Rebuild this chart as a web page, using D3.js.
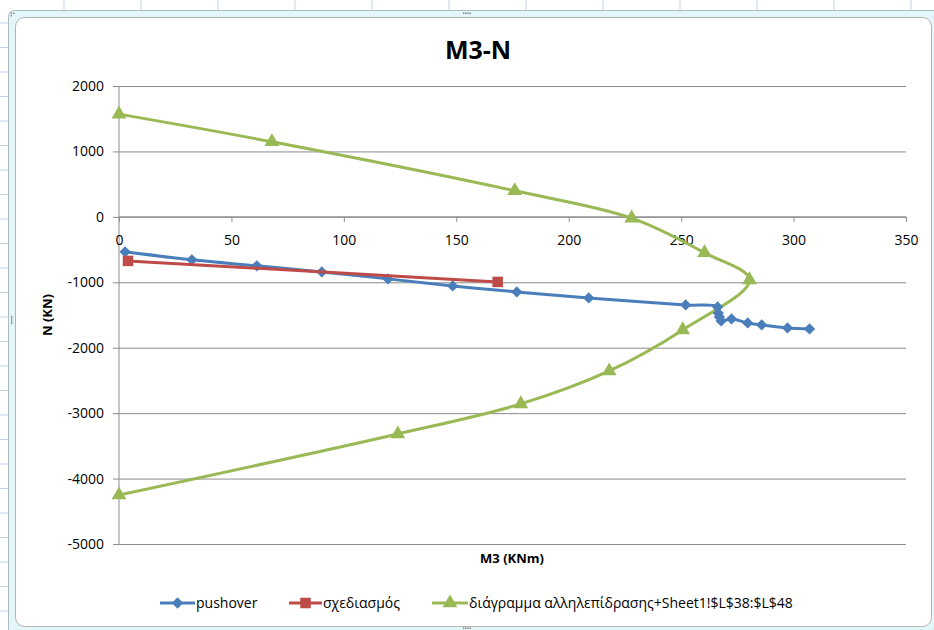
<!DOCTYPE html>
<html>
<head>
<meta charset="utf-8">
<script src="https://cdn.jsdelivr.net/npm/d3@7/dist/d3.min.js"></script>
<style>
  html, body { margin: 0; padding: 0; background: #ffffff; }
  svg text { font-family: "Open Sans", "Liberation Sans", Arial, sans-serif; fill: #000; }
</style>
</head>
<body>
<svg id="chart" width="934" height="630"></svg>
<script>
// M3 (KNm) / N (KN) values for each series
const pushoverM = [2.7, 32.4, 61.3, 90.2, 119.6, 148.4, 176.9, 208.9, 252.0, 266.2, 266.5, 267.0, 267.8, 272.4, 279.6, 285.8, 297.3, 307.1];
const pushoverN = [-535, -657, -749, -841, -948, -1055, -1147, -1239, -1346, -1376, -1470, -1530, -1590, -1560, -1621, -1651, -1697, -1713];

const designM = [4.0, 168.4];
const designN = [-673, -994];

const interactionM = [0, 68, 176, 228, 260.4, 280.4, 250.7, 218, 178.7, 124, 0];
const interactionN = [1570, 1147, 398, -20, -550, -963, -1728, -2355, -2859, -3318, -4251];

const xTicks = [0, 50, 100, 150, 200, 250, 300, 350];
const yTicks = [2000, 1000, 0, -1000, -2000, -3000, -4000, -5000];

const seriesNames = ["pushover", "σχεδιασμός", "διάγραμμα αλληλεπίδρασης+Sheet1!$L$38:$L$48"];
const chartTitle = "M3-N";
const xTitle = "M3 (KNm)";
const yTitle = "N (KN)";

const svg = d3.select("#chart");
const labelFont = "'Open Sans', 'Liberation Sans', Arial, sans-serif";
const fmt = d => String(d);   // plain hyphen-minus, as the worksheet prints it

// ---- workbook surroundings: sheet grid and chart frame ----
const sheet = svg.append("g");
d3.range(64, 934, 77).forEach(xp => {
  sheet.append("line").attr("x1", xp).attr("x2", xp).attr("y1", 0).attr("y2", 11)
    .attr("stroke", "#c5d3ea").attr("stroke-width", 1);
});
d3.range(23, 630, 24.5).forEach(yp => {
  sheet.append("line").attr("x1", 0).attr("x2", 9).attr("y1", yp).attr("y2", yp)
    .attr("stroke", "#c5d3ea").attr("stroke-width", 1);
});
// outer selection border
sheet.append("rect").attr("x", 8.5).attr("y", 10.5).attr("width", 940).attr("height", 640)
  .attr("rx", 6).attr("fill", "#e3f6f9").attr("stroke", "#a9bcc4").attr("stroke-width", 1);
// chart area
sheet.append("rect").attr("x", 15.5).attr("y", 17.5).attr("width", 916).attr("height", 609)
  .attr("rx", 9).attr("fill", "#ffffff").attr("stroke", "#b4b4b4").attr("stroke-width", 1);
// sizing handles
const handle = (cx, cy, vertical) => {
  for (let i = 0; i < 4; i++) {
    sheet.append("rect")
      .attr("x", vertical ? cx - 1 : cx - 4 + i * 2.2)
      .attr("y", vertical ? cy - 4 + i * 2.2 : cy - 1)
      .attr("width", 1.4).attr("height", 1.4).attr("fill", "#7a7a7a");
  }
};
handle(467, 13.5, false);
handle(12, 320, true);
handle(467, 628.5, false);
[[10.5, 12.5], [13, 12.5], [10.5, 15]].forEach(([hx, hy]) =>
  sheet.append("rect").attr("x", hx).attr("y", hy).attr("width", 1.4).attr("height", 1.4).attr("fill", "#7a7a7a"));

// ---- scales ----
const plot = { left: 119, right: 906, top: 86, bottom: 544 };
const x = d3.scaleLinear().domain([0, 350]).range([plot.left, plot.right]);
const y = d3.scaleLinear().domain([-5000, 2000]).range([plot.bottom, plot.top]);

// ---- gridlines ----
svg.append("g")
  .attr("transform", `translate(${plot.left},0)`)
  .call(d3.axisLeft(y).tickValues(yTicks).tickSize(-(plot.right - plot.left)).tickFormat(""))
  .call(g => g.select(".domain").remove())
  .call(g => g.selectAll("line").attr("stroke", "#8c8c8c").attr("stroke-width", 1));

// ---- y axis ----
svg.append("g")
  .attr("transform", `translate(${plot.left},0)`)
  .call(d3.axisLeft(y).tickValues(yTicks).tickSize(6).tickPadding(9).tickFormat(fmt))
  .call(g => g.select(".domain").attr("stroke", "#8c8c8c").attr("d", `M0,${plot.top}V${plot.bottom}`))
  .call(g => g.selectAll(".tick line").attr("stroke", "#8c8c8c"))
  .call(g => g.selectAll(".tick text").attr("font-size", 14).attr("fill", "#000")
    .attr("font-family", labelFont));

// ---- x axis, crossing at N = 0 ----
svg.append("g")
  .attr("transform", `translate(0,${y(0)})`)
  .call(d3.axisBottom(x).tickValues(xTicks).tickSize(5).tickPadding(25).tickFormat(fmt))
  .call(g => g.select(".domain").attr("stroke", "#8c8c8c").attr("d", `M${plot.left},0H${plot.right}`))
  .call(g => g.selectAll(".tick line").attr("stroke", "#8c8c8c"))
  .call(g => g.selectAll(".tick text").attr("font-size", 14).attr("fill", "#000")
    .attr("font-family", labelFont).attr("dy", "-0.1em"));

// ---- titles ----
svg.append("text").attr("x", 478).attr("y", 59).attr("text-anchor", "middle")
  .attr("font-size", 25).attr("font-weight", "bold").text(chartTitle);
svg.append("text").attr("x", 512).attr("y", 563).attr("text-anchor", "middle")
  .attr("font-size", 13).attr("font-weight", "bold").text(xTitle);
svg.append("text").attr("transform", `translate(52,${(plot.top + plot.bottom) / 2}) rotate(-90)`)
  .attr("text-anchor", "middle").attr("font-size", 13).attr("font-weight", "bold").text(yTitle);

// ---- series ----
const colors = ["#4a7ebb", "#be4b48", "#98b954"];

const zip = (ms, ns) => ms.map((m, i) => [m, ns[i]]);
const pushover = zip(pushoverM, pushoverN);
const design = zip(designM, designN);
const interaction = zip(interactionM, interactionN);

const straight = d3.line().x(d => x(d[0])).y(d => y(d[1]));
const smooth = d3.line().x(d => x(d[0])).y(d => y(d[1])).curve(d3.curveCatmullRom.alpha(0.5));

const symbols = [
  d3.symbol().type(d3.symbolSquare).size(64),
  d3.symbol().type(d3.symbolSquare).size(110),
  d3.symbol().type(d3.symbolTriangle).size(95)
];
const symbolTurn = ["rotate(45)", "", ""];

function drawSeries(data, lineGen, i) {
  const g = svg.append("g");
  g.append("path").datum(data).attr("d", lineGen).attr("fill", "none")
    .attr("stroke", colors[i]).attr("stroke-width", 3).attr("stroke-linejoin", "round");
  g.selectAll("path.mark").data(data).join("path").attr("class", "mark")
    .attr("transform", d => `translate(${x(d[0])},${y(d[1])}) ${symbolTurn[i]}`)
    .attr("d", symbols[i]()).attr("fill", colors[i]);
}
drawSeries(interaction, smooth, 2);
drawSeries(pushover, smooth, 0);
drawSeries(design, straight, 1);

// ---- legend ----
const legendY = 603;
const legendItems = [
  { x1: 160, x2: 195, tx: 196 },
  { x1: 289, x2: 322, tx: 323 },
  { x1: 432, x2: 468, tx: 469 }
];
legendItems.forEach((it, i) => {
  const g = svg.append("g");
  g.append("line").attr("x1", it.x1).attr("x2", it.x2).attr("y1", legendY).attr("y2", legendY)
    .attr("stroke", colors[i]).attr("stroke-width", 3);
  g.append("path").attr("transform", `translate(${(it.x1 + it.x2) / 2},${legendY}) ${symbolTurn[i]}`)
    .attr("d", symbols[i]()).attr("fill", colors[i]);
  g.append("text").attr("x", it.tx).attr("y", legendY + 5).attr("font-size", 14)
    .attr("font-family", labelFont).text(seriesNames[i]);
});
</script>
</body>
</html>
